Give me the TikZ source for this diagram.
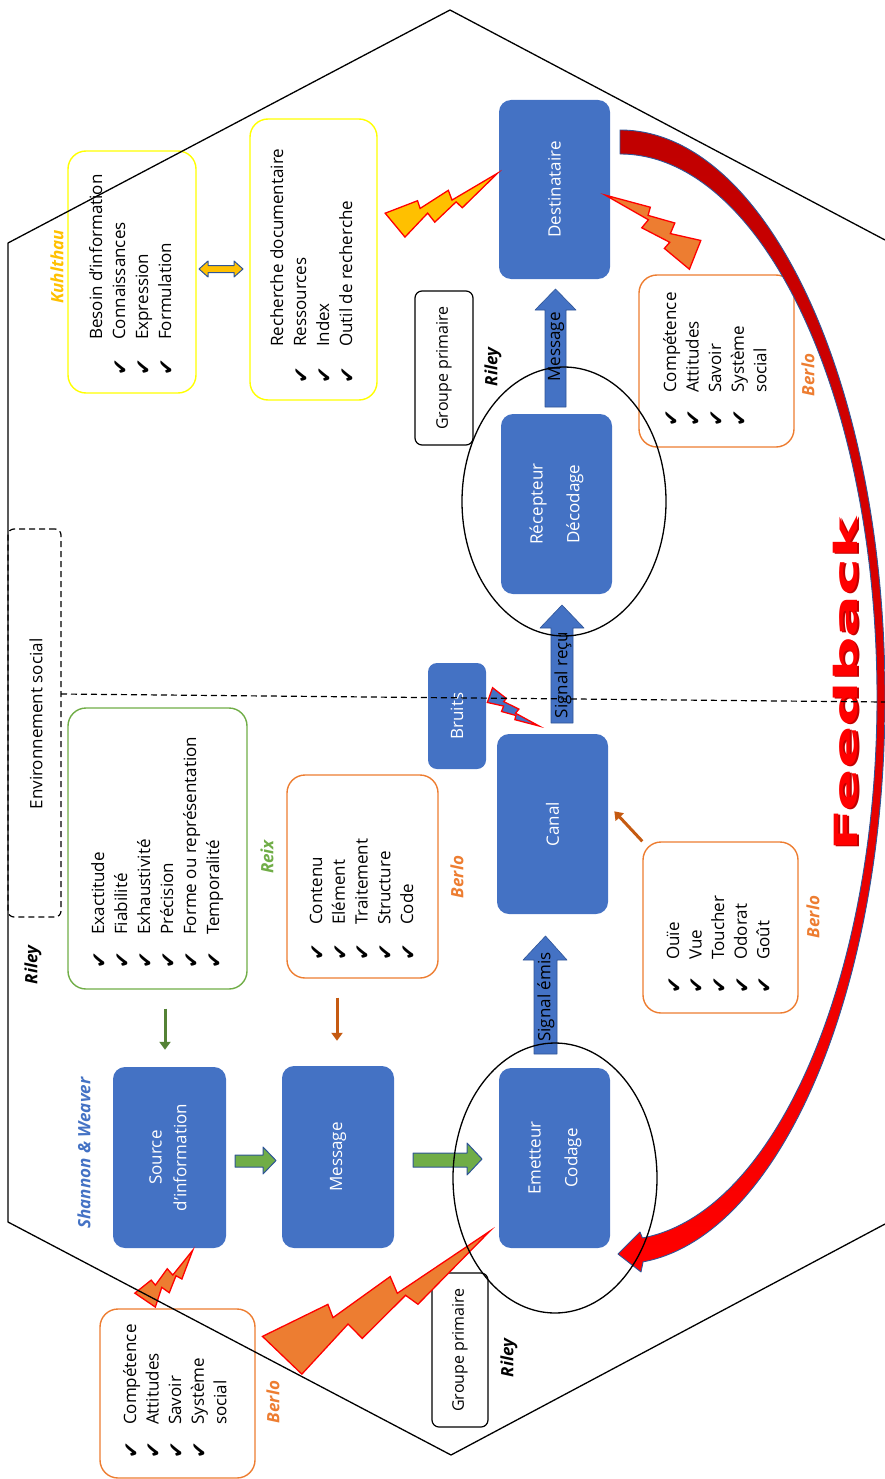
\documentclass[tikz,border=0pt]{standalone}
\usepackage{fontspec}
\setmainfont{Open Sans}
\newfontfamily\dejavu{DejaVu Sans}
\usetikzlibrary{arrows.meta,shapes.geometric}
\definecolor{bblue}{HTML}{4472C4}
\definecolor{bdark}{HTML}{2F5597}
\definecolor{oorange}{HTML}{ED7D31}
\definecolor{ggreen}{HTML}{70AD47}
\definecolor{yyel}{HTML}{FFFF00}
\definecolor{gold}{HTML}{FFC000}
\definecolor{dred}{HTML}{C00000}
\definecolor{darkor}{HTML}{C55A11}
\newcommand\fs{\fontsize{17}{22.7}\selectfont}
\newcommand{\bolt}[7]{%
  \begin{scope}[shift={(#1,-#2)}, rotate=#3, xscale=#4, yscale=#5]
  \filldraw[fill=#6, draw=#7, line width=1.3pt, line join=miter]
    (-0.03,0.13) -- (0.27,0.10) -- (0.26,0.03) -- (0.55,0.06) -- (0.54,-0.03) -- (1,0)
    -- (0.59,-0.13) -- (0.565,-0.06) -- (0.32,-0.134) -- (0.30,-0.036) -- (0.03,-0.133) -- cycle;
  \end{scope}}
\begin{document}
\begin{tikzpicture}[x=1pt,y=1pt,line join=round,
  bluebox/.style={fill=bblue, rounded corners=12pt, text=white, inner sep=0, font=\fs},
  lbox/.style={rounded corners=18pt, line width=1.4pt, inner sep=0},
  gbox/.style={draw=black, rounded corners=7pt, line width=1.2pt, inner sep=0, font=\fontsize{16}{20}\selectfont},
  item/.style={rotate=90, anchor=west, inner sep=0, text height=12pt, text depth=4pt, font=\fs},
  chk/.style={rotate=90, inner sep=0, font=\dejavu\fontsize{20}{20}\selectfont},
  lab/.style={rotate=90, inner sep=0, font=\fs\bfseries\itshape},
  arrtext/.style={rotate=90, inner sep=0, font=\fs},
  garrow/.style={draw=ggreen!75!black, line width=3pt, -{Triangle[length=8pt,width=11pt]}},
  oarrow/.style={draw=darkor, line width=3pt, -{Triangle[length=8pt,width=11pt]}},
  blockarr/.style={fill=bblue, draw=bdark, line width=0.6pt},
  greenarr/.style={fill=ggreen, draw=bdark, line width=1pt}
]
\useasboundingbox (0,0) rectangle (885,-1479);

% ---------- list boxes ----------
\node[lbox, draw=yyel, minimum width=128pt, minimum height=242pt] (kA) at (132,-272) {};
\node[lbox, draw=yyel, minimum width=127pt, minimum height=281pt] (kB) at (313.5,-259.5) {};
\node[lbox, draw=oorange, minimum width=155pt, minimum height=172pt] (bTR) at (716.5,-361) {};
\node[lbox, draw=ggreen, minimum width=179pt, minimum height=281pt] (reix) at (157.5,-848.5) {};
\node[lbox, draw=oorange, minimum width=151pt, minimum height=203pt] (bCo) at (362.5,-876.5) {};
\node[lbox, draw=oorange, minimum width=155pt, minimum height=171pt] (ouie) at (720.5,-927.5) {};
\node[lbox, draw=oorange, minimum width=155pt, minimum height=169pt] (bBL) at (177.5,-1393.5) {};
\node[draw=black, dash pattern=on 6pt off 4pt, line width=1.2pt, rounded corners=6pt, minimum width=53pt, minimum height=388pt, inner sep=0] (env) at (34.5,-723) {};
\node[font=\fs, rotate=90, inner sep=0] (envt) at (36,-724) {Environnement social};

% ---------- list contents ----------
\foreach \t [count=\i] in {Besoin d’information, Connaissances, Expression, Formulation}
  \node[item] (kAt\i) at ({98+(\i-1)*23}, -340) {\t};
\foreach \i in {2,3,4}
  \node[chk] (kAc\i) at ({98+(\i-1)*23}, -367) {✔};
\foreach \t [count=\i] in {Recherche documentaire, Ressources, Index, Outil de recherche}
  \node[item] (kBt\i) at ({279+(\i-1)*23}, -347) {\t};
\foreach \i in {2,3,4}
  \node[chk] (kBc\i) at ({279+(\i-1)*23}, -375) {✔};
\foreach \t [count=\i] in {Compétence, Attitudes, Savoir, Système, social}
  \node[item] (bTRt\i) at ({672+(\i-1)*22.6}, -393) {\t};
\foreach \i in {1,2,3,4}
  \node[chk] (bTRc\i) at ({672+(\i-1)*22.6}, -418) {✔};
\foreach \t [count=\i] in {Exactitude, Fiabilité, Exhaustivité, Précision, Forme ou représentation, Temporalité}
  \node[item] (reixt\i) at ({100+(\i-1)*23}, -935) {\t};
\foreach \i in {1,...,6}
  \node[chk] (reixc\i) at ({100+(\i-1)*23}, -960) {✔};
\foreach \t [count=\i] in {Contenu, Elément, Traitement, Structure, Code}
  \node[item] (bCot\i) at ({318+(\i-1)*22.8}, -925) {\t};
\foreach \i in {1,...,5}
  \node[chk] (bCoc\i) at ({318+(\i-1)*22.8}, -952) {✔};
\foreach \t [count=\i] in {Ouïe, Vue, Toucher, Odorat, Goût}
  \node[item] (ouiet\i) at ({675+(\i-1)*22.6}, -960) {\t};
\foreach \i in {1,...,5}
  \node[chk] (ouiec\i) at ({675+(\i-1)*22.6}, -985) {✔};
\foreach \t [count=\i] in {Compétence, Attitudes, Savoir, Système, social}
  \node[item] (bBLt\i) at ({132+(\i-1)*22.6}, -1425) {\t};
\foreach \i in {1,2,3,4}
  \node[chk] (bBLc\i) at ({132+(\i-1)*22.6}, -1450) {✔};

% ---------- labels ----------
\node[lab, text=gold] (lKuhl) at (57,-267) {Kuhlthau};
\node[lab] (lRiley1) at (493,-367) {Riley};
\node[lab, text=oorange] (lBerlo1) at (808,-375) {Berlo};
\node[lab, text=ggreen] (lReix) at (267,-857) {Reix};
\node[lab, text=oorange] (lBerlo2) at (457,-877) {Berlo};
\node[lab, text=oorange] (lBerlo3) at (813,-917) {Berlo};
\node[lab] (lRiley2) at (33,-965) {Riley};
\node[lab, text=bblue] (lSW) at (84,-1153) {Shannon \& Weaver};
\node[lab, text=oorange] (lBerlo4) at (273,-1402) {Berlo};
\node[lab] (lRiley3) at (509,-1358) {Riley};

% ---------- groupe primaire ----------
\node[gbox, minimum width=58pt, minimum height=154pt] (gp1) at (444,-368) {\rotatebox{90}{Groupe primaire}};
\node[gbox, minimum width=56pt, minimum height=154pt] (gp2) at (460,-1350) {\rotatebox{90}{Groupe primaire}};

% ---------- blue boxes ----------
\node[bluebox, minimum width=111pt, minimum height=179pt] (dest) at (554.5,-189.5) {\rotatebox{90}{Destinataire}};
\node[bluebox, minimum width=111pt, minimum height=180pt] (recep) at (556.5,-504) {\rotatebox{90}{\begin{tabular}{@{}c@{}}Récepteur\\[14pt]Décodage\end{tabular}}};
\node[bluebox, minimum width=111pt, minimum height=180pt] (canal) at (552.5,-824) {\rotatebox{90}{Canal}};
\node[bluebox, rounded corners=9pt, minimum width=58pt, minimum height=106pt] (bruits) at (457,-716) {\rotatebox{90}{Bruits}};
\node[bluebox, minimum width=111pt, minimum height=180pt] (emet) at (554.5,-1158) {\rotatebox{90}{\begin{tabular}{@{}c@{}}Emetteur\\[14pt]Codage\end{tabular}}};
\node[bluebox, minimum width=113pt, minimum height=181pt] (src) at (169.5,-1157.5) {\rotatebox{90}{\begin{tabular}{@{}c@{}}Source\\[2pt]d’information\end{tabular}}};
\node[bluebox, minimum width=112pt, minimum height=182pt] (msg) at (338,-1157) {\rotatebox{90}{Message}};

% ---------- block arrows ----------
\filldraw[blockarr] (545,-407) -- (566,-407) -- (566,-310) -- (576,-310) -- (555.5,-289) -- (535,-310) -- (545,-310) -- cycle;
\node[arrtext] (tMsg) at (556,-347) {Message};
\filldraw[blockarr] (534,-1054) -- (557,-1054) -- (557,-960) -- (567,-960) -- (545.5,-936) -- (523,-960) -- (534,-960) -- cycle;
\node[arrtext] (tSe) at (546,-997) {Signal émis};
\filldraw[blockarr] (551,-723) -- (573,-723) -- (573,-628) -- (584,-628) -- (562,-605) -- (540,-628) -- (551,-628) -- cycle;
\node[arrtext] (tSr) at (563,-675) {Signal reçu};

\filldraw[greenarr] (235,-1155) -- (263,-1155) -- (263,-1147) -- (276,-1160.5) -- (263,-1174) -- (263,-1167) -- (235,-1167) -- cycle;
\filldraw[greenarr] (413,-1153) -- (467,-1153) -- (467,-1143) -- (482,-1159) -- (467,-1175) -- (467,-1167) -- (413,-1167) -- cycle;

% Kuhlthau double arrow
\filldraw[fill=gold, draw=bdark, line width=1pt] (199,-269) -- (208,-261) -- (208,-265.5) -- (234,-265.5) -- (234,-261) -- (243,-269) -- (234,-277) -- (234,-272.5) -- (208,-272.5) -- (208,-277) -- cycle;

% thin arrows
\coordinate (gx) at (165,0);
\coordinate (ox) at (337,0);
\draw[garrow, shorten <=19pt, shorten >=17pt] (reix.south -| gx) -- (src.north -| gx);
\draw[oarrow, shorten <=19pt, shorten >=25pt] (bCo.south -| ox) -- (msg.north -| ox);
\draw[oarrow] (ouie.north west) -- ++(-28,30);

% ---------- lightning bolts ----------
\bolt{395}{225}{26.8}{115}{115}{gold}{red}
\bolt{695}{255}{146.3}{108}{115}{oorange}{red}
\bolt{282}{1355}{30.8}{242}{200}{oorange}{red}
\bolt{145}{1300}{46.2}{69}{93}{oorange}{red}
\bolt{490}{695}{-32.3}{58}{58}{bblue}{red}

% ---------- feedback arc ----------
\path[draw=bdark, line width=0.9pt, top color=dred, bottom color=red]
  (620,-130) arc[start angle=90, end angle=-85, x radius=265, y radius=567]
  -- (641,-1272) -- (618,-1254) -- (640,-1232)
  -- ({620+257*cos(-85)},{-697+543*sin(-85)})
  arc[start angle=-85, end angle=90, x radius=257, y radius=543]
  -- cycle;
\node[rotate=90, inner sep=0, text=dred, font=\dejavu\bfseries\fontsize{32}{32}\selectfont] (fbs) at (848,-685) {\scalebox{1.95}[1]{Feedback}};
\node[rotate=90, inner sep=0, text=red, font=\dejavu\bfseries\fontsize{32}{32}\selectfont] (fb) at (846,-684) {\scalebox{1.95}[1]{Feedback}};

% ---------- ellipses ----------
\node[draw=black, ellipse, line width=1.3pt, minimum width=204pt, minimum height=270pt, inner sep=0] (ellE) at (555,-1178) {};
\node[draw=black, ellipse, line width=1.3pt, minimum width=204pt, minimum height=269pt, inner sep=0] (ellR) at (564,-501.5) {};

% ---------- hexagon & divider ----------
\draw[line width=1.3pt] (885,-240) -- (450,-10) -- (8,-243) -- (8,-1222) -- (451,-1455) -- (885,-1224);
\coordinate (dl1) at (61,-694);
\coordinate (dl2) at (885,-702);
\draw[dashed, line width=1.2pt, dash pattern=on 6pt off 4pt] (dl1) -- (dl2);
\end{tikzpicture}
\end{document}
